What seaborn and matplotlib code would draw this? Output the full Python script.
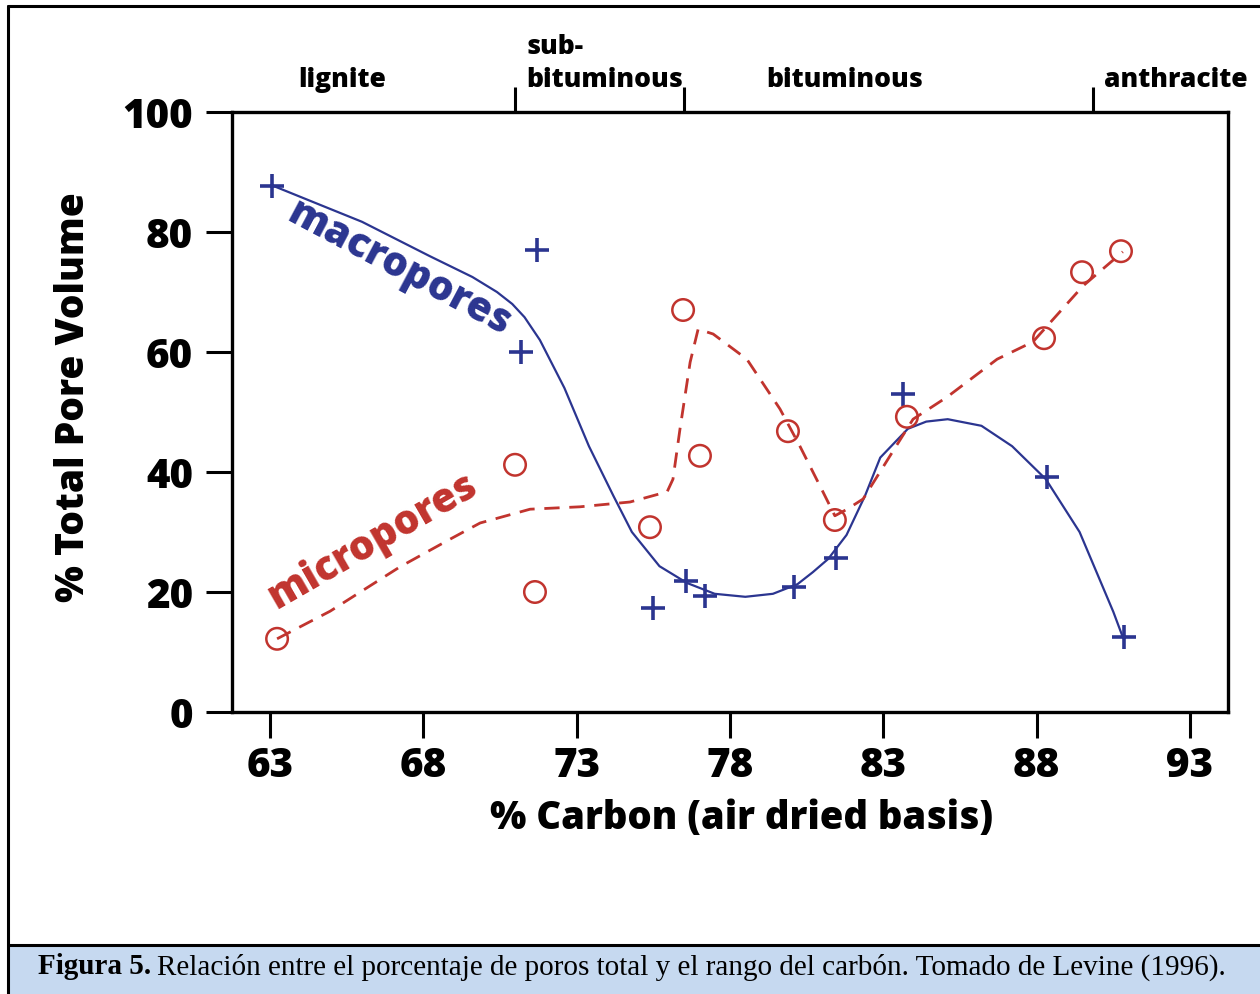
import seaborn as sns
import numpy as np
from matplotlib import pyplot as plt
from matplotlib.patches import Rectangle
from matplotlib.lines import Line2D

macro_x = [63.07, 71.7, 71.2, 75.5, 76.56, 77.18, 80.1, 81.45, 83.64, 88.33, 90.85]
macro_y = [87.7, 77.0, 60.0, 17.3, 21.8, 19.3, 20.8, 25.7, 53.0, 39.2, 12.5]
micro_x = [63.23, 70.99, 71.64, 75.39, 76.47, 77.02, 79.89, 81.42, 83.77, 88.24, 89.48, 90.75]
micro_y = [12.2, 41.2, 20.0, 30.8, 67.0, 42.7, 46.8, 32.0, 49.2, 62.3, 73.3, 76.8]

# fitted curves
macro_fit_x = [63.1, 64.5, 66.0, 68.2, 69.6, 70.4, 70.9, 71.3, 71.8, 72.6, 73.4, 74.2, 74.8,
               75.7, 76.6, 77.5, 78.5, 79.4, 80.2, 80.7, 81.2, 81.8, 82.4, 82.9, 83.8,
               84.4, 85.1, 86.2, 87.2, 88.3, 89.4, 90.5, 90.8]
macro_fit_y = [87.7, 84.8, 81.7, 76.0, 72.5, 70.0, 68.0, 65.8, 62.0, 54.0, 44.3, 36.0, 30.0,
               24.3, 21.5, 19.7, 19.2, 19.7, 21.3, 23.3, 25.5, 29.5, 36.0, 42.4, 47.2,
               48.4, 48.8, 47.7, 44.3, 38.8, 30.0, 16.7, 12.6]
micro_fit_x = [63.23, 64.96, 67.24, 68.87, 69.85, 71.48, 73.11, 74.74, 75.95, 76.14,
               76.37, 76.70, 76.96, 77.45, 78.55, 79.63, 80.28, 81.03, 81.42, 81.82,
               82.34, 83.22, 83.97, 85.08, 86.71, 87.88, 89.51, 90.81]
micro_fit_y = [12.2, 16.8, 24.2, 28.8, 31.5, 33.8, 34.2, 35.0, 36.7, 38.8,
               47.2, 58.3, 63.8, 63.0, 58.8, 50.5, 44.3, 36.7, 32.7, 33.8,
               35.5, 42.7, 48.8, 52.5, 58.8, 61.7, 71.0, 76.7]

x_ticks = [63, 68, 73, 78, 83, 88, 93]
y_ticks = [0, 20, 40, 60, 80, 100]
rank_bounds = [71, 76.5, 89.85]

blue = '#2b3590'
red = '#c1342e'

sns.set_theme(style='white')
plt.rcParams['font.family'] = ['Open Sans', 'DejaVu Sans']
plt.rcParams['text.color'] = 'black'
plt.rcParams['axes.labelcolor'] = 'black'
plt.rcParams['xtick.color'] = 'black'
plt.rcParams['ytick.color'] = 'black'

W = 'heavy'

fig = plt.figure(figsize=(12.6, 9.95), dpi=100)
ax = fig.add_axes([232 / 1260, 1 - 713 / 995, 996 / 1260, 600 / 995])

sns.lineplot(x=macro_fit_x, y=macro_fit_y, sort=False, estimator=None,
             color=blue, lw=1.6, ax=ax)
sns.lineplot(x=micro_fit_x, y=micro_fit_y, sort=False, estimator=None,
             color=red, lw=2.0, ax=ax)
ax.lines[-1].set_dashes([5.5, 3.5])

sns.scatterplot(x=macro_x, y=macro_y, marker='+', s=300, color=blue,
                linewidth=2.6, ax=ax, zorder=5)
sns.scatterplot(x=micro_x, y=micro_y, marker='o', s=240, facecolor='none',
                edgecolor=red, linewidth=1.8, ax=ax, zorder=5)

ax.set_xlim(61.76, 94.24)
ax.set_ylim(0, 100)
ax.set_xticks(x_ticks)
ax.set_yticks(y_ticks)
ax.set_xticklabels([str(t) for t in x_ticks], fontsize=29, fontweight=W)
ax.set_yticklabels([str(t) for t in y_ticks], fontsize=29, fontweight=W)
ax.tick_params(direction='out', length=19, width=2.2, color='black',
               bottom=True, left=True, pad=5)
ax.tick_params(axis='y', pad=9)
for sp in ax.spines.values():
    sp.set_visible(True)
    sp.set_color('black')
    sp.set_linewidth(2.4)

ax.set_xlabel('% Carbon (air dried basis)', fontsize=27.5, fontweight=W)
ax.set_ylabel('% Total Pore Volume', fontsize=28, fontweight=W)
ax.xaxis.set_label_coords(0.512, -0.143)
ax.yaxis.set_label_coords(-0.14, 0.527)

# coal rank boundaries on top
ax2 = ax.twiny()
ax2.set_xlim(ax.get_xlim())
ax2.set_xticks(rank_bounds)
ax2.tick_params(axis='x', direction='out', length=18, width=2.2, color='black',
                top=True, labeltop=False)
for sp in ax2.spines.values():
    sp.set_visible(False)

tr = ax.get_xaxis_transform()
rank_kw = dict(transform=tr, fontsize=19, fontweight=W, va='center')
ax.text(65.35, 1.055, 'lignite', ha='center', **rank_kw)
ax.text(71.35, 1.11, 'sub-', ha='left', **rank_kw)
ax.text(71.35, 1.055, 'bituminous', ha='left', **rank_kw)
ax.text(81.75, 1.055, 'bituminous', ha='center', **rank_kw)
ax.text(90.2, 1.055, 'anthracite', ha='left', **rank_kw)

ax.text(67.2, 74.0, 'macropores', color=blue, fontsize=29, fontweight=W,
        rotation=-28, ha='center', va='center', rotation_mode='anchor')
ax.text(66.35, 28.6, 'micropores', color=red, fontsize=29, fontweight=W,
        rotation=30, ha='center', va='center', rotation_mode='anchor')

# frame and caption
fig.add_artist(Line2D([8 / 1260, 8 / 1260], [0, 1 - 7 / 995], color='black', lw=2.2))
fig.add_artist(Line2D([8 / 1260, 1], [1 - 7 / 995, 1 - 7 / 995], color='black', lw=2.2))
fig.add_artist(Rectangle((9 / 1260, 0), 1, 49 / 995, transform=fig.transFigure,
                         facecolor='#c6d9f0', edgecolor='none'))
fig.add_artist(Line2D([8 / 1260, 1], [49 / 995, 49 / 995], color='black', lw=2.2))
cap1 = fig.text(38 / 1260, 28 / 995, 'Figura 5.', family='Liberation Serif', fontsize=21,
                fontweight='bold', va='center', ha='left')
fig.canvas.draw()
bb = cap1.get_window_extent()
fig.text((bb.x1 + 6) / 1260, 28 / 995,
         'Relación entre el porcentaje de poros total y el rango del carbón. '
         'Tomado de Levine (1996).',
         family='Liberation Serif', fontsize=21, va='center', ha='left')

plt.savefig('out.png', dpi=100)
plt.close()
